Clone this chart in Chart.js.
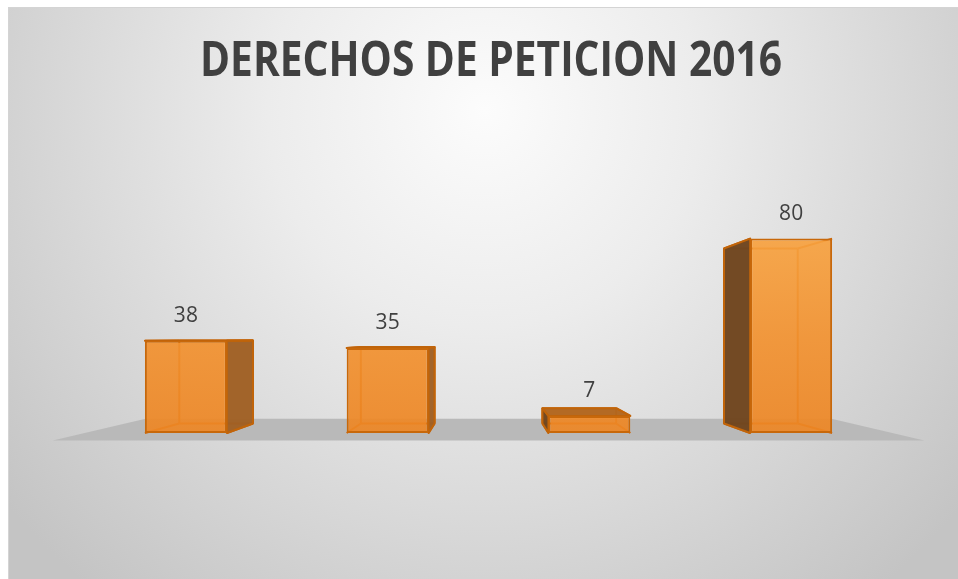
<!DOCTYPE html>
<html>
<head>
<meta charset="utf-8">
<script src="https://cdn.jsdelivr.net/npm/chart.js@4/dist/chart.umd.min.js"></script>
<style>
  html, body { margin: 0; padding: 0; background: #ffffff; }
  canvas { display: block; }
</style>
</head>
<body>
<canvas id="c" width="958" height="579"></canvas>
<script>
// ---- data ----
const chartTitle = 'DERECHOS DE PETICION 2016';
const categories = ['1', '2', '3', '4'];
const values = [38, 35, 7, 80];
const yMin = 0;
const yMax = 100;

// ---- 3D scene helpers ----
const DEPTH = 0.1;          // bar depth in perspective units
const FLOOR_FRONT = -0.08;
const FLOOR_BACK = 0.15;

function vp(chart) {
  const ca = chart.chartArea;
  return { x: (ca.left + ca.right) / 2, y: ca.top + 148 };
}
function proj(v, x, y, t) {
  return [x + t * (v.x - x), y + t * (v.y - y)];
}
function poly(ctx, pts, fill, stroke, lw) {
  ctx.beginPath();
  ctx.moveTo(pts[0][0], pts[0][1]);
  for (let i = 1; i < pts.length; i++) ctx.lineTo(pts[i][0], pts[i][1]);
  ctx.closePath();
  if (fill) { ctx.fillStyle = fill; ctx.fill(); }
  if (stroke) { ctx.strokeStyle = stroke; ctx.lineWidth = lw || 1.5; ctx.lineJoin = 'round'; ctx.stroke(); }
}
function line(ctx, a, b, color, lw) {
  ctx.beginPath();
  ctx.moveTo(a[0], a[1]);
  ctx.lineTo(b[0], b[1]);
  ctx.strokeStyle = color;
  ctx.lineWidth = lw;
  ctx.stroke();
}

const scenePlugin = {
  id: 'scene',
  beforeDraw(chart) {
    const ctx = chart.ctx;
    const W = chart.width, H = chart.height;
    ctx.save();
    ctx.fillStyle = '#ffffff';
    ctx.fillRect(0, 0, W, H);
    const g = ctx.createRadialGradient(485, 110, 0, 485, 110, 620);
    g.addColorStop(0, '#fcfcfc');
    g.addColorStop(0.35, '#ececec');
    g.addColorStop(1, '#c4c4c4');
    ctx.fillStyle = g;
    ctx.fillRect(8, 7, W - 8, H - 7);
    ctx.strokeStyle = '#d4d4d4';
    ctx.lineWidth = 1;
    ctx.strokeRect(8.5, 7.5, W, H);

    // title
    ctx.font = 'bold 49px "Open Sans"';
    const w = ctx.measureText(chartTitle).width;
    const sx = 582 / w;
    ctx.translate(491, 76);
    ctx.scale(sx, 1);
    ctx.fillStyle = '#404040';
    ctx.textAlign = 'center';
    ctx.textBaseline = 'alphabetic';
    ctx.fillText(chartTitle, 0, 0);
    ctx.restore();
  },
  beforeDatasetsDraw(chart) {
    const ctx = chart.ctx;
    const ca = chart.chartArea;
    const v = vp(chart);
    const base = chart.scales.y.getPixelForValue(0);
    ctx.save();
    // floor
    poly(ctx, [
      proj(v, ca.left, base, FLOOR_FRONT),
      proj(v, ca.right, base, FLOOR_FRONT),
      proj(v, ca.right, base, FLOOR_BACK),
      proj(v, ca.left, base, FLOOR_BACK)
    ], '#b9b9b9');

    const meta = chart.getDatasetMeta(0);
    meta.data.forEach((bar) => {
      const p = bar.getProps(['x', 'y', 'base', 'width'], true);
      const L = p.x - p.width / 2, R = p.x + p.width / 2, T = p.y, B = p.base;
      const bTL = proj(v, L, T, DEPTH), bTR = proj(v, R, T, DEPTH);
      const bBL = proj(v, L, B, DEPTH), bBR = proj(v, R, B, DEPTH);
      // hidden edges (seen through translucent faces)
      const hc = 'rgba(205,100,5,1)';
      line(ctx, bTL, bTR, hc, 2);
      line(ctx, bBL, bBR, hc, 2);
      line(ctx, bTL, bBL, hc, 2);
      line(ctx, bTR, bBR, hc, 2);
      line(ctx, [L, B], bBL, hc, 2);
      line(ctx, [R, B], bBR, hc, 2);
      line(ctx, [L, T], bTL, hc, 2);
      line(ctx, [R, T], bTR, hc, 2);
      const edge = '#c0640a';
      // visible side faces
      if (R < v.x) {
        poly(ctx, [[R, T], bTR, bBR, [R, B]], 'rgba(160,96,36,0.97)', edge, 2);
      }
      if (L > v.x) {
        poly(ctx, [[L, T], bTL, bBL, [L, B]], 'rgba(112,70,32,0.98)', edge, 2);
      }
      if (T > v.y) {
        poly(ctx, [[L, T], [R, T], bTR, bTL], 'rgba(178,102,30,0.97)', edge, 2);
      }
    });
    ctx.restore();
  },
  afterDatasetsDraw(chart) {
    const ctx = chart.ctx;
    const meta = chart.getDatasetMeta(0);
    ctx.save();
    ctx.font = '21px "Open Sans"';
    ctx.fillStyle = '#404040';
    ctx.textAlign = 'center';
    ctx.textBaseline = 'middle';
    meta.data.forEach((bar, i) => {
      const p = bar.getProps(['x', 'y'], true);
      ctx.fillText(String(values[i]), p.x, p.y - 25);
    });
    ctx.restore();
  }
};

function faceColor(context) {
  const chart = context.chart;
  const ca = chart.chartArea;
  if (!ca) return 'rgba(240,140,44,0.92)';
  const g = chart.ctx.createLinearGradient(0, ca.top, 0, ca.bottom);
  g.addColorStop(0, 'rgba(250,170,72,0.92)');
  g.addColorStop(0.6, 'rgba(242,146,48,0.92)');
  g.addColorStop(1, 'rgba(237,134,36,0.92)');
  return g;
}

new Chart(document.getElementById('c'), {
  type: 'bar',
  data: {
    labels: categories,
    datasets: [{
      data: values,
      backgroundColor: faceColor,
      borderColor: '#c8680a',
      borderWidth: 2,
      borderSkipped: false,
      barPercentage: 0.406,
      categoryPercentage: 1
    }]
  },
  options: {
    responsive: false,
    animation: false,
    devicePixelRatio: 1,
    layout: { padding: { left: 85, right: 66, top: 190, bottom: 146 } },
    scales: {
      x: { display: false },
      y: { display: false, min: yMin, max: yMax }
    },
    plugins: {
      legend: { display: false },
      tooltip: { enabled: false },
      title: { display: false }
    }
  },
  plugins: [scenePlugin]
});
</script>
</body>
</html>
